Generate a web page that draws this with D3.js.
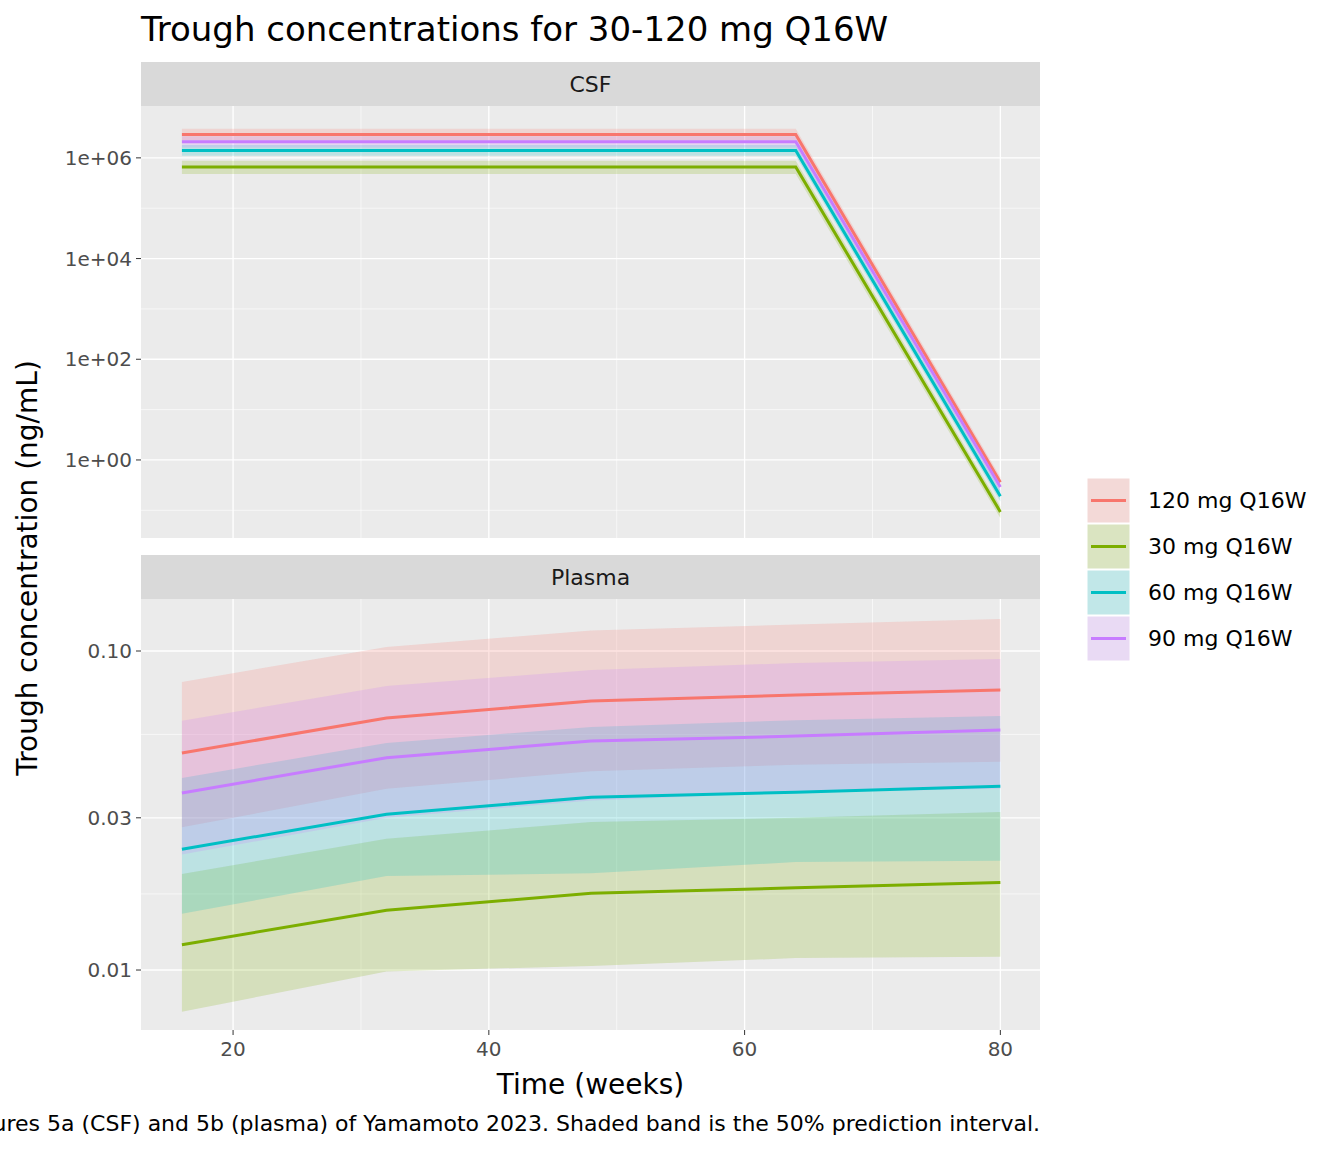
<!DOCTYPE html>
<html><head><meta charset="utf-8">
<script src="https://cdn.jsdelivr.net/npm/d3@7"></script>
<style>body{margin:0;background:#fff}text{font-family:"DejaVu Sans",sans-serif}</style>
</head><body>
<script>
// données
const weeks = [16, 32, 48, 64, 80];
const doses = ["120 mg Q16W", "30 mg Q16W", "60 mg Q16W", "90 mg Q16W"];
const colors = ["#F8766D", "#7CAE00", "#00BFC4", "#C77CFF"];

const csfMed = [
  [2.9e6, 2.9e6, 2.9e6, 2.9e6, 0.36],
  [6.6e5, 6.6e5, 6.6e5, 6.6e5, 0.093],
  [1.4e6, 1.4e6, 1.4e6, 1.4e6, 0.19],
  [2.1e6, 2.1e6, 2.1e6, 2.1e6, 0.29]
];
const csfLo = [
  [2.2e6, 2.2e6, 2.2e6, 2.2e6, 0.28],
  [4.8e5, 4.8e5, 4.8e5, 4.8e5, 0.07],
  [1.1e6, 1.1e6, 1.1e6, 1.1e6, 0.15],
  [1.6e6, 1.6e6, 1.6e6, 1.6e6, 0.22]
];
const csfHi = [
  [3.8e6, 3.8e6, 3.8e6, 3.8e6, 0.46],
  [8.8e5, 8.8e5, 8.8e5, 8.8e5, 0.12],
  [1.8e6, 1.8e6, 1.8e6, 1.8e6, 0.25],
  [2.7e6, 2.7e6, 2.7e6, 2.7e6, 0.37]
];
const plMed = [
  [0.0479, 0.0617, 0.0697, 0.0728, 0.0755],
  [0.0120, 0.0154, 0.0174, 0.0181, 0.0188],
  [0.0239, 0.0308, 0.0348, 0.0361, 0.0377],
  [0.0359, 0.0463, 0.0522, 0.0541, 0.0565]
];
const plLo = [
  [0.028, 0.037, 0.042, 0.044, 0.045],
  [0.0074, 0.0099, 0.0103, 0.0109, 0.0110],
  [0.0150, 0.0197, 0.0201, 0.0218, 0.0220],
  [0.023, 0.030, 0.034, 0.036, 0.037]
];
const plHi = [
  [0.080, 0.103, 0.116, 0.121, 0.126],
  [0.020, 0.0258, 0.0291, 0.030, 0.0313],
  [0.040, 0.0515, 0.0578, 0.0607, 0.0625],
  [0.0604, 0.0777, 0.0872, 0.0917, 0.0944]
];
const xTicks = [20, 40, 60, 80];
const csfTicks = [1e6, 1e4, 1e2, 1];
const csfTickLabels = ["1e+06", "1e+04", "1e+02", "1e+00"];
const plTicks = [0.1, 0.03, 0.01];
const plTickLabels = ["0.10", "0.03", "0.01"];

const W = 1344, H = 1152;
const svg = d3.select("body").append("svg").attr("width", W).attr("height", H);
const L = 141, R = 1040;
const x = d3.scaleLinear().domain([12.8, 83.1]).range([L, R]);

svg.append("text").attr("x", L).attr("y", 41).attr("font-size", 34).text("Trough concentrations for 30-120 mg Q16W");

function panel(name, top, bottom, y, ticks, labels, minor, med, lo, hi) {
  const g = svg.append("g");
  g.append("rect").attr("x", L).attr("y", top - 44).attr("width", R - L).attr("height", 44).attr("fill", "#d9d9d9");
  g.append("text").attr("x", (L + R) / 2).attr("y", top - 14).attr("text-anchor", "middle")
    .attr("font-size", 22).attr("fill", "#1a1a1a").text(name);
  g.append("rect").attr("x", L).attr("y", top).attr("width", R - L).attr("height", bottom - top).attr("fill", "#ebebeb");
  const gl = g.append("g").attr("stroke", "#fff");
  minor.forEach(v => gl.append("line").attr("x1", L).attr("x2", R).attr("y1", y(v)).attr("y2", y(v)).attr("stroke-width", 0.6));
  [10, 30, 50, 70].forEach(v => gl.append("line").attr("x1", x(v)).attr("x2", x(v)).attr("y1", top).attr("y2", bottom).attr("stroke-width", 0.6));
  ticks.forEach(v => gl.append("line").attr("x1", L).attr("x2", R).attr("y1", y(v)).attr("y2", y(v)).attr("stroke-width", 1.3));
  xTicks.forEach(v => gl.append("line").attr("x1", x(v)).attr("x2", x(v)).attr("y1", top).attr("y2", bottom).attr("stroke-width", 1.3));
  ticks.forEach((v, i) => {
    g.append("line").attr("x1", L - 5).attr("x2", L).attr("y1", y(v)).attr("y2", y(v)).attr("stroke", "#333");
    g.append("text").attr("x", L - 9).attr("y", y(v) + 7).attr("text-anchor", "end")
      .attr("font-size", 20).attr("fill", "#4d4d4d").text(labels[i]);
  });
  const area = d3.area().x((d, i) => x(weeks[i])).y0(d => y(d[0])).y1(d => y(d[1]));
  const line = d3.line().x((d, i) => x(weeks[i])).y(d => y(d));
  doses.forEach((d, k) => {
    g.append("path").attr("d", area(lo[k].map((v, i) => [v, hi[k][i]])))
      .attr("fill", colors[k]).attr("fill-opacity", 0.2);
  });
  doses.forEach((d, k) => {
    g.append("path").attr("d", line(med[k])).attr("fill", "none").attr("stroke", colors[k]).attr("stroke-width", 3);
  });
}

const yC = d3.scaleLog().domain([10 ** -1.55, 10 ** 7.03]).range([538, 106]);
panel("CSF", 106, 538, yC, csfTicks, csfTickLabels, [1e5, 1e3, 10, 0.1], csfMed, csfLo, csfHi);
const yP = d3.scaleLog().domain([10 ** -2.188, 10 ** -0.837]).range([1030, 599]);
panel("Plasma", 599, 1030, yP, plTicks, plTickLabels, [Math.sqrt(0.003), Math.sqrt(0.0003)], plMed, plLo, plHi);

xTicks.forEach(v => {
  svg.append("line").attr("x1", x(v)).attr("x2", x(v)).attr("y1", 1030).attr("y2", 1035).attr("stroke", "#333");
  svg.append("text").attr("x", x(v)).attr("y", 1056).attr("text-anchor", "middle")
    .attr("font-size", 20).attr("fill", "#4d4d4d").text(v);
});
svg.append("text").attr("x", (L + R) / 2).attr("y", 1094).attr("text-anchor", "middle").attr("font-size", 28).text("Time (weeks)");
svg.append("text").attr("transform", "translate(37,568) rotate(-90)").attr("text-anchor", "middle")
  .attr("font-size", 28).text("Trough concentration (ng/mL)");
svg.append("text").attr("x", R).attr("y", 1131).attr("text-anchor", "end").attr("font-size", 22)
  .text("Data digitized from Figures 5a (CSF) and 5b (plasma) of Yamamoto 2023. Shaded band is the 50% prediction interval.");

const lg = svg.append("g").attr("transform", "translate(1087,478)");
doses.forEach((d, k) => {
  const yy = k * 46;
  lg.append("rect").attr("x", 0).attr("y", yy).attr("width", 43).attr("height", 45).attr("fill", "#f2f2f2");
  lg.append("rect").attr("x", 0).attr("y", yy).attr("width", 43).attr("height", 45).attr("fill", colors[k]).attr("fill-opacity", 0.2)
    .attr("stroke", "#fff").attr("stroke-width", 1);
  lg.append("line").attr("x1", 4).attr("x2", 39).attr("y1", yy + 22.5).attr("y2", yy + 22.5).attr("stroke", colors[k]).attr("stroke-width", 3);
  lg.append("text").attr("x", 61).attr("y", yy + 30).attr("font-size", 22).text(d);
});
</script>
</body></html>
